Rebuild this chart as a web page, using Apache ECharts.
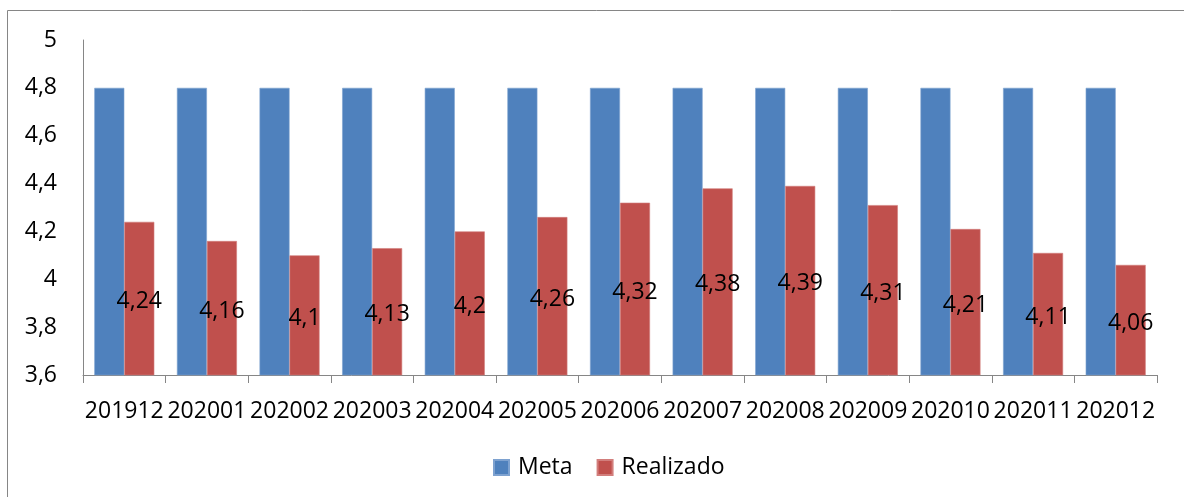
<!DOCTYPE html>
<html>
<head>
<meta charset="utf-8">
<style>
  html, body { margin: 0; padding: 0; background: #fff; }
  #chart { width: 1184px; height: 497px; }
</style>
<script src="https://cdn.jsdelivr.net/npm/echarts@6/dist/echarts.min.js"></script>
</head>
<body>
<div id="chart"></div>
<script>
// Monthly categories (AAAAMM)
const categories = ['201912', '202001', '202002', '202003', '202004', '202005', '202006',
                    '202007', '202008', '202009', '202010', '202011', '202012'];
// Target per month
const meta = [4.8, 4.8, 4.8, 4.8, 4.8, 4.8, 4.8, 4.8, 4.8, 4.8, 4.8, 4.8, 4.8];
// Achieved per month
const realizado = [4.24, 4.16, 4.1, 4.13, 4.2, 4.26, 4.32, 4.38, 4.39, 4.31, 4.21, 4.11, 4.06];
// Value axis range
const yMin = 3.6, yMax = 5, yStep = 0.2;

const FONT = '"Open Sans", "Liberation Sans", sans-serif';
const comma = v => String(Math.round(v * 100) / 100).replace('.', ',');

const chart = echarts.init(document.getElementById('chart'), null, { renderer: 'canvas' });
chart.setOption({
  animation: false,
  backgroundColor: '#ffffff',
  textStyle: { fontFamily: FONT },
  graphic: [{
    type: 'rect',
    shape: { x: 7.5, y: 10.5, width: 1400, height: 700 },
    style: { fill: null, stroke: '#868686', lineWidth: 1 },
    silent: true
  }],
  grid: { left: 83, right: 27, top: 40, bottom: 122 },
  legend: {
    data: ['Meta', 'Realizado'],
    left: 488,
    top: 451,
    itemWidth: 15,
    itemHeight: 15,
    itemGap: 24,
    icon: 'rect',
    textStyle: { fontFamily: FONT, fontSize: 23, color: '#000', padding: [0, 0, 0, 4] }
  },
  xAxis: {
    type: 'category',
    data: categories,
    axisLine: { lineStyle: { color: '#868686', width: 1 } },
    axisTick: { show: true, length: 8, lineStyle: { color: '#868686' } },
    axisLabel: { color: '#000', fontFamily: FONT, fontSize: 23, margin: 25, interval: 0 },
    splitLine: { show: false }
  },
  yAxis: {
    type: 'value',
    min: yMin,
    max: yMax,
    interval: yStep,
    axisLine: { show: true, lineStyle: { color: '#868686', width: 1 } },
    axisTick: { show: false },
    splitLine: { show: false },
    axisLabel: { color: '#000', fontFamily: FONT, fontSize: 23, margin: 26, formatter: comma }
  },
  series: [
    {
      name: 'Meta',
      type: 'bar',
      data: meta,
      barWidth: 30,
      barGap: '0%',
      itemStyle: { color: '#4F81BD', borderColor: '#7EA2D0', borderWidth: 0.6 }
    },
    {
      name: 'Realizado',
      type: 'bar',
      data: realizado,
      barWidth: 30,
      itemStyle: { color: '#C0504D', borderColor: '#D27E7C', borderWidth: 0.6 },
      label: {
        show: true,
        position: 'inside',
        offset: [0, 3],
        color: '#000',
        fontFamily: FONT,
        fontSize: 23,
        formatter: p => comma(p.value)
      }
    }
  ]
});
</script>
</body>
</html>
